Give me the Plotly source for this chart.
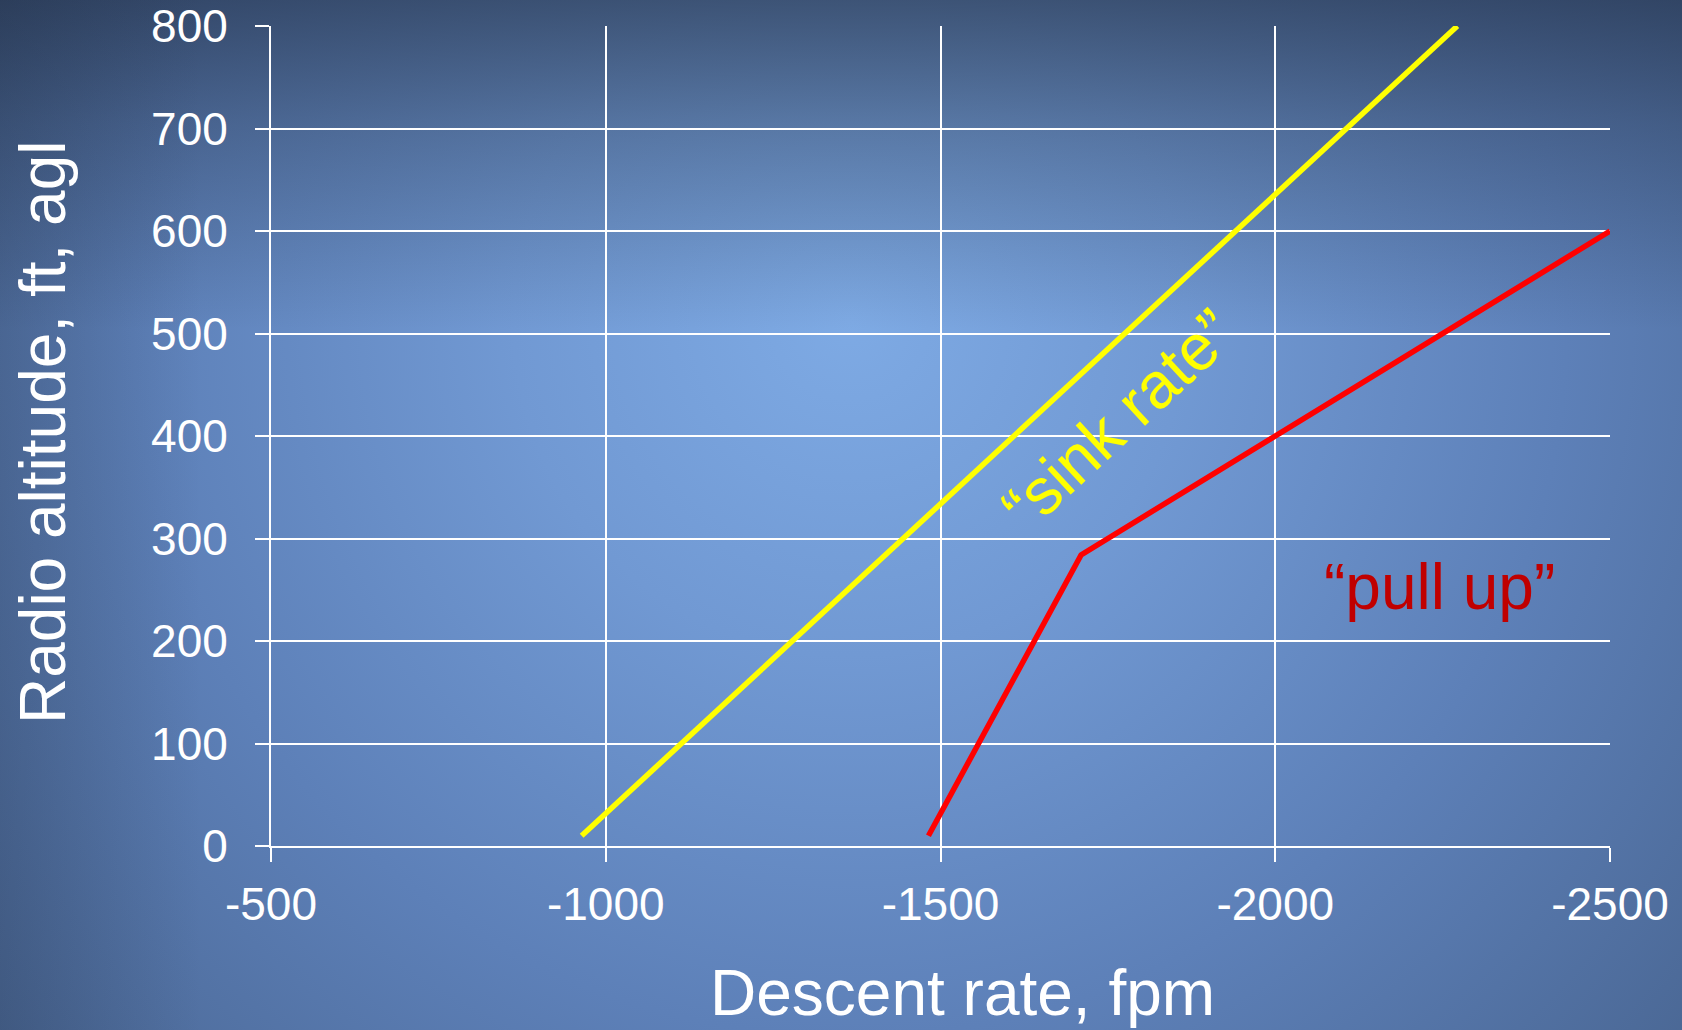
import base64
import plotly.graph_objects as go

# ---- data ----
sink_rate_x = [-964, -2272]
sink_rate_y = [10, 800]
pull_up_x = [-1482, -1710, -2500]
pull_up_y = [10, 284, 600]
x_ticks = [-500, -1000, -1500, -2000, -2500]
y_ticks = [0, 100, 200, 300, 400, 500, 600, 700, 800]

W, H = 1682, 1030
L, R, T, B = 271, 72, 26, 184
pw, ph = W - L - R, H - T - B

FONT = "Arial, 'Liberation Sans', sans-serif"

svg = f"""<svg xmlns='http://www.w3.org/2000/svg' width='{W}' height='{H}' viewBox='0 0 {W} {H}' preserveAspectRatio='none'>
<defs>
<radialGradient id='g' cx='850' cy='320' r='1120' gradientUnits='userSpaceOnUse'>
<stop offset='0' stop-color='#7eaae4'/>
<stop offset='0.3' stop-color='#7199d3'/>
<stop offset='0.64' stop-color='#5d80b8'/>
<stop offset='1' stop-color='#4a6794'/>
</radialGradient>
<linearGradient id='t' x1='0' y1='0' x2='0' y2='1'>
<stop offset='0' stop-color='#1a2538' stop-opacity='0.6'/>
<stop offset='0.12' stop-color='#1a2538' stop-opacity='0.33'/>
<stop offset='0.32' stop-color='#1a2538' stop-opacity='0'/>
</linearGradient>
<linearGradient id='l' x1='0' y1='0' x2='1' y2='0'>
<stop offset='0' stop-color='#1a2538' stop-opacity='0.22'/>
<stop offset='0.12' stop-color='#1a2538' stop-opacity='0'/>
</linearGradient>
</defs>
<rect width='{W}' height='{H}' fill='url(#g)'/>
<rect width='{W}' height='{H}' fill='url(#t)'/>
<rect width='{W}' height='{H}' fill='url(#l)'/>
</svg>"""
bg_uri = "data:image/svg+xml;base64," + base64.b64encode(svg.encode()).decode()

fig = go.Figure()
fig.add_trace(go.Scatter(x=sink_rate_x, y=sink_rate_y, mode="lines",
                         line=dict(color="#ffff00", width=5.5), showlegend=False))
fig.add_trace(go.Scatter(x=pull_up_x, y=pull_up_y, mode="lines",
                         line=dict(color="#ff0000", width=5.5), showlegend=False))

fig.add_layout_image(dict(source=bg_uri, xref="paper", yref="paper",
                          x=-L / pw, y=1 + T / ph, sizex=W / pw, sizey=H / ph,
                          xanchor="left", yanchor="top", sizing="stretch",
                          layer="below"))

fig.add_annotation(x=-1766, y=416, text="\u201csink rate\u201d", showarrow=False,
                   textangle=-42.8, font=dict(family=FONT, size=65, color="#ffff00"))
fig.add_annotation(x=-2246, y=253, text="\u201cpull up\u201d", showarrow=False,
                   font=dict(family=FONT, size=64, color="#c00000"))
fig.add_annotation(xref="paper", yref="paper", x=(962 - L) / pw, y=(846 - 993) / ph,
                   text="Descent rate, fpm", showarrow=False, xanchor="center", yanchor="middle",
                   font=dict(family=FONT, size=64, color="white"))
fig.add_annotation(xref="paper", yref="paper", x=(43 - L) / pw, y=(846 - 433) / ph,
                   text="Radio altitude, ft, agl", showarrow=False, textangle=-90,
                   xanchor="center", yanchor="middle",
                   font=dict(family=FONT, size=64, color="white"))

axis_common = dict(showgrid=True, gridcolor="white", gridwidth=2,
                   showline=True, linecolor="white", linewidth=2,
                   ticks="outside", ticklen=14, tickwidth=2, tickcolor="white",
                   tickfont=dict(family=FONT, size=46, color="white"),
                   zeroline=False)
fig.update_xaxes(range=[-500, -2500], tickvals=x_ticks, ticktext=[str(v) for v in x_ticks],
                 ticklabelstandoff=3, **axis_common)
fig.update_yaxes(range=[0, 800], tickvals=y_ticks, ticktext=[str(v) for v in y_ticks],
                 ticklabelstandoff=18, **axis_common)

fig.update_layout(width=W, height=H,
                  margin=dict(l=L, r=R, t=T, b=B, autoexpand=False),
                  paper_bgcolor="#5d80b8", plot_bgcolor="rgba(0,0,0,0)",
                  font=dict(family=FONT))
fig.write_html("out.html", config={"displayModeBar": False})

with open("out.html", "r", encoding="utf-8") as f:
    html = f.read()
html = html.replace("<head>", "<head><style>html,body{margin:0;padding:0;overflow:hidden;}</style>", 1)
with open("out.html", "w", encoding="utf-8") as f:
    f.write(html)
